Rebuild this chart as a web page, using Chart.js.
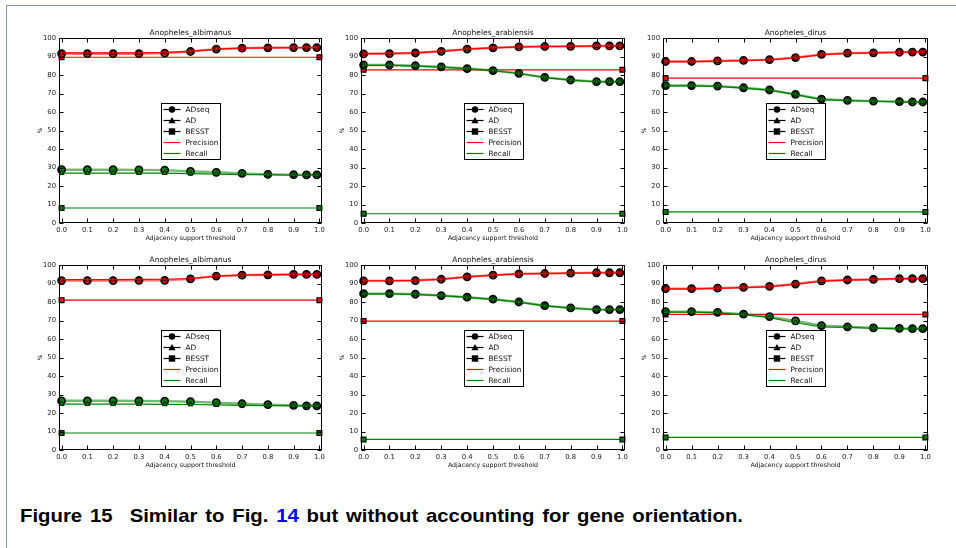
<!DOCTYPE html>
<html><head><meta charset="utf-8">
<script src="https://cdn.jsdelivr.net/npm/chart.js@4.4.1/dist/chart.umd.min.js"></script>
<style>
html,body{margin:0;padding:0;background:#fff;width:956px;height:548px;overflow:hidden;position:relative}
#frame{position:absolute;left:6px;top:5px;width:980px;height:580px;border-left:1.5px solid #7f95b5;border-top:1.5px solid #7f95b5;}
canvas{position:absolute}
#caption{position:absolute;left:20px;top:506px;font:bold 19px "Liberation Sans",Arial,sans-serif;word-spacing:2px;white-space:nowrap;transform-origin:0 0;color:#000;line-height:1}
</style></head><body>
<div id="frame"></div>
<div id="caption"><span>Figure 15</span><span style="margin-left:16px">Similar to Fig. <span style="color:#0000ff">14</span> but without accounting for gene orientation.</span></div>
<script>
// ---------- data ----------
const thresholds = [0.0, 0.1, 0.2, 0.3, 0.4, 0.5, 0.6, 0.7, 0.8, 0.9, 0.95, 0.99];
const besstX = [0.0, 1.0];
const xTickValues = [0.0, 0.1, 0.2, 0.3, 0.4, 0.5, 0.6, 0.7, 0.8, 0.9, 1.0];
const yTickValues = [0, 10, 20, 30, 40, 50, 60, 70, 80, 90, 100];
const panelTitles = ['Anopheles_albimanus', 'Anopheles_arabiensis', 'Anopheles_dirus',
                     'Anopheles_albimanus', 'Anopheles_arabiensis', 'Anopheles_dirus'];
const xAxisTitle = 'Adjacency support threshold';
const yAxisTitle = '%';
const legendLabels = ['ADseq', 'AD', 'BESST', 'Precision', 'Recall'];

// panel 1: top-left albimanus
const p1AdseqPrecision = [91.5, 91.5, 91.5, 91.5, 91.8, 92.7, 94.0, 94.5, 94.7, 94.8, 94.8, 94.8];
const p1AdPrecision    = [92.0, 92.0, 92.0, 92.0, 92.2, 92.8, 94.0, 94.5, 94.7, 94.8, 94.8, 94.8];
const p1AdseqRecall    = [28.8, 28.8, 28.8, 28.7, 28.6, 27.9, 27.4, 26.8, 26.3, 26.1, 26.0, 26.0];
const p1AdRecall       = [27.0, 27.0, 27.0, 27.0, 27.0, 26.7, 26.4, 26.2, 26.1, 25.8, 25.8, 25.8];
const p1BesstPrecision = [89.6, 89.6];
const p1BesstRecall    = [8.1, 8.1];
// panel 2: top-middle arabiensis
const p2AdseqPrecision = [91.4, 91.5, 91.9, 92.8, 94.0, 94.7, 95.2, 95.4, 95.5, 95.7, 95.7, 95.7];
const p2AdPrecision    = [91.6, 91.7, 92.0, 92.8, 94.0, 94.7, 95.2, 95.4, 95.5, 95.7, 95.7, 95.7];
const p2AdseqRecall    = [85.4, 85.4, 85.0, 84.4, 83.5, 82.4, 80.9, 78.7, 77.3, 76.4, 76.4, 76.4];
const p2AdRecall       = [85.2, 85.2, 84.8, 84.3, 83.4, 82.3, 80.8, 78.6, 77.2, 76.3, 76.3, 76.3];
const p2BesstPrecision = [82.8, 82.8];
const p2BesstRecall    = [5.0, 5.0];
// panel 3: top-right dirus
const p3AdseqPrecision = [87.3, 87.3, 87.6, 87.9, 88.3, 89.4, 91.1, 91.8, 92.0, 92.3, 92.4, 92.4];
const p3AdPrecision    = [87.2, 87.2, 87.5, 87.8, 88.2, 89.3, 91.0, 91.7, 92.0, 92.3, 92.4, 92.4];
const p3AdseqRecall    = [74.3, 74.3, 74.0, 73.1, 71.9, 69.5, 66.9, 66.3, 65.9, 65.6, 65.4, 65.4];
const p3AdRecall       = [74.1, 74.1, 73.8, 72.9, 71.8, 69.4, 66.7, 66.2, 65.8, 65.5, 65.3, 65.3];
const p3BesstPrecision = [78.3, 78.3];
const p3BesstRecall    = [6.0, 6.0];
// panel 4: bottom-left albimanus
const p4AdseqPrecision = [91.6, 91.6, 91.6, 91.7, 91.7, 92.5, 94.0, 94.5, 94.7, 94.9, 94.9, 94.9];
const p4AdPrecision    = [92.1, 92.1, 92.1, 92.2, 92.3, 92.7, 94.0, 94.5, 94.7, 94.9, 94.9, 94.9];
const p4AdseqRecall    = [26.6, 26.6, 26.6, 26.5, 26.4, 26.1, 25.6, 25.0, 24.5, 24.1, 23.9, 23.9];
const p4AdRecall       = [24.8, 24.8, 24.8, 24.8, 24.7, 24.6, 24.4, 24.1, 24.0, 23.8, 23.7, 23.7];
const p4BesstPrecision = [81.0, 81.0];
const p4BesstRecall    = [9.2, 9.2];
// panel 5: bottom-middle arabiensis
const p5AdseqPrecision = [91.4, 91.4, 91.6, 92.3, 93.6, 94.5, 95.2, 95.4, 95.6, 95.8, 95.8, 95.8];
const p5AdPrecision    = [91.5, 91.5, 91.7, 92.3, 93.6, 94.5, 95.2, 95.4, 95.6, 95.8, 95.8, 95.8];
const p5AdseqRecall    = [84.5, 84.5, 84.2, 83.5, 82.6, 81.5, 80.0, 78.0, 76.8, 75.9, 75.9, 75.9];
const p5AdRecall       = [84.4, 84.4, 84.1, 83.4, 82.5, 81.4, 79.9, 77.9, 76.7, 75.8, 75.8, 75.8];
const p5BesstPrecision = [69.7, 69.7];
const p5BesstRecall    = [5.7, 5.7];
// panel 6: bottom-right dirus
const p6AdseqPrecision = [87.2, 87.2, 87.5, 87.9, 88.4, 89.7, 91.4, 91.9, 92.2, 92.6, 92.6, 92.6];
const p6AdPrecision    = [87.1, 87.1, 87.4, 87.8, 88.3, 89.6, 91.3, 91.8, 92.2, 92.6, 92.6, 92.6];
const p6AdseqRecall    = [74.8, 74.8, 74.4, 73.4, 72.1, 69.8, 67.2, 66.6, 66.0, 65.7, 65.6, 65.6];
const p6AdRecall       = [74.5, 74.5, 74.1, 73.1, 71.6, 68.8, 66.5, 66.3, 65.8, 65.5, 65.5, 65.5];
const p6BesstPrecision = [73.3, 73.3];
const p6BesstRecall    = [6.8, 6.8];

const panelData = [
  [p1AdseqPrecision, p1AdPrecision, p1AdseqRecall, p1AdRecall, p1BesstPrecision, p1BesstRecall],
  [p2AdseqPrecision, p2AdPrecision, p2AdseqRecall, p2AdRecall, p2BesstPrecision, p2BesstRecall],
  [p3AdseqPrecision, p3AdPrecision, p3AdseqRecall, p3AdRecall, p3BesstPrecision, p3BesstRecall],
  [p4AdseqPrecision, p4AdPrecision, p4AdseqRecall, p4AdRecall, p4BesstPrecision, p4BesstRecall],
  [p5AdseqPrecision, p5AdPrecision, p5AdseqRecall, p5AdRecall, p5BesstPrecision, p5BesstRecall],
  [p6AdseqPrecision, p6AdPrecision, p6AdseqRecall, p6AdRecall, p6BesstPrecision, p6BesstRecall]
];

// ---------- layout ----------
const RED = '#ff0000', GREEN = '#008000';
const FONT = 'DejaVu Sans';
const plotBoxes = [ // left, top, width, height of plot area
  [59, 38, 263, 185], [361, 38, 264, 185], [663, 38, 265, 185],
  [59, 265, 263, 185], [361, 265, 264, 185], [663, 265, 265, 185]
];
const PAD_L = 50, PAD_T = 20, PAD_R = 14, PAD_B = 30;

function pts(xs, ys) { return xs.map((x, i) => ({x: x, y: ys[i]})); }
function rgba(hex, a) {
  const r = parseInt(hex.slice(1,3),16), g = parseInt(hex.slice(3,5),16), b = parseInt(hex.slice(5,7),16);
  return `rgba(${r},${g},${b},${a})`;
}
function series(data, xs, color, style, lineAlpha, lw, radius, bw) {
  return {
    data: pts(xs, data), borderColor: rgba(color, lineAlpha), borderWidth: lw,
    pointStyle: style, pointRadius: radius, pointBackgroundColor: color,
    pointBorderColor: '#000', pointBorderWidth: bw, tension: 0, fill: false, clip: 8
  };
}

const decor = {
  id: 'decor',
  afterDatasetsDraw(chart, args, opts) {
    const ctx = chart.ctx, a = chart.chartArea;
    const xs = chart.scales.x, ys = chart.scales.y;
    ctx.save();
    ctx.strokeStyle = '#000'; ctx.lineWidth = 1;
    const L = Math.round(a.left) + 0.5, T = Math.round(a.top) + 0.5;
    const R = Math.round(a.right) - 0.5, B = Math.round(a.bottom) - 0.5;
    ctx.strokeRect(L, T, R - L, B - T);
    ctx.beginPath();
    xTickValues.forEach(v => {
      const x = Math.round(xs.getPixelForValue(v)) + 0.5;
      ctx.moveTo(x, B); ctx.lineTo(x, B - 4);
      ctx.moveTo(x, T); ctx.lineTo(x, T + 4);
    });
    yTickValues.forEach(v => {
      const y = Math.round(ys.getPixelForValue(v)) + 0.5;
      ctx.moveTo(L, y); ctx.lineTo(L + 4, y);
      ctx.moveTo(R, y); ctx.lineTo(R - 4, y);
    });
    ctx.stroke();
    // titles
    const cx = (a.left + a.right) / 2, cy = (a.top + a.bottom) / 2;
    ctx.fillStyle = '#111';
    ctx.textAlign = 'center'; ctx.textBaseline = 'alphabetic';
    ctx.font = `7.5px "${FONT}"`;
    ctx.fillText(opts.title, cx, a.top - 3);
    ctx.font = `6.3px "${FONT}"`;
    ctx.fillText(xAxisTitle, cx, a.bottom + 17);
    ctx.save();
    ctx.translate(a.left - 19, cy);
    ctx.rotate(-Math.PI / 2);
    ctx.font = `6px "${FONT}"`;
    ctx.textBaseline = 'middle';
    ctx.fillText(yAxisTitle, 0, 0);
    ctx.restore();
    // legend
    const bw = 59, bh = 56;
    const bx = Math.round(cx - bw / 2) + 0.5, by = Math.round(cy - bh / 2) + 0.5;
    ctx.fillStyle = '#fff';
    ctx.fillRect(bx, by, bw, bh);
    ctx.strokeStyle = '#000'; ctx.lineWidth = 1;
    ctx.strokeRect(bx, by, bw, bh);
    const colors = ['#000', '#000', '#000', RED, GREEN];
    const markers = ['circle', 'triangle', 'rect', null, null];
    legendLabels.forEach((lab, i) => {
      const y = by + 6 + i * 11;
      ctx.strokeStyle = colors[i]; ctx.lineWidth = 1.2;
      ctx.beginPath(); ctx.moveTo(bx + 2, y); ctx.lineTo(bx + 19, y); ctx.stroke();
      const mx = bx + 10.5;
      ctx.fillStyle = '#000';
      if (markers[i] === 'circle') { ctx.beginPath(); ctx.arc(mx, y, 3.2, 0, Math.PI * 2); ctx.fill(); }
      if (markers[i] === 'triangle') { ctx.beginPath(); ctx.moveTo(mx, y - 3.6); ctx.lineTo(mx + 3.6, y + 2.8); ctx.lineTo(mx - 3.6, y + 2.8); ctx.closePath(); ctx.fill(); }
      if (markers[i] === 'rect') { ctx.fillRect(mx - 3.2, y - 3.2, 6.4, 6.4); }
      ctx.fillStyle = '#111';
      ctx.font = `7.4px "${FONT}"`;
      ctx.textAlign = 'left'; ctx.textBaseline = 'middle';
      ctx.fillText(lab, bx + 24, y + 0.5);
    });
    ctx.restore();
  }
};

plotBoxes.forEach((box, k) => {
  const [l, t, w, h] = box;
  const cv = document.createElement('canvas');
  cv.width = w + PAD_L + PAD_R; cv.height = h + PAD_T + PAD_B;
  cv.style.left = (l - PAD_L) + 'px'; cv.style.top = (t - PAD_T) + 'px';
  cv.style.width = cv.width + 'px'; cv.style.height = cv.height + 'px';
  document.body.appendChild(cv);
  const d = panelData[k];
  const datasets = [
    series(d[1], thresholds, RED, 'triangle', 1, 1.2, 2.9, 0.8),
    series(d[3], thresholds, GREEN, 'triangle', 1, 1.2, 2.9, 0.8),
    series(d[0], thresholds, RED, 'circle', 0.55, 2.4, 3.6, 1.6),
    series(d[2], thresholds, GREEN, 'circle', 0.55, 2.4, 3.6, 1.6),
    series(d[4], besstX, RED, 'rect', 1, 1.2, 3.4, 1.2),
    series(d[5], besstX, GREEN, 'rect', 1, 1.2, 3.4, 1.2)
  ];
  const tickFont = {family: FONT, size: 6.8};
  new Chart(cv, {
    type: 'line',
    data: {datasets: datasets},
    options: {
      responsive: false, animation: false, devicePixelRatio: 1,
      layout: {padding: {left: 0, top: PAD_T, right: PAD_R, bottom: 0}},
      plugins: {legend: {display: false}, tooltip: {enabled: false}, title: {display: false},
                decor: {title: panelTitles[k]}},
      scales: {
        x: {
          type: 'linear', min: -0.01, max: 1.01,
          afterFit: s => { s.height = PAD_B; },
          afterBuildTicks: s => { s.ticks = xTickValues.map(v => ({value: v})); },
          ticks: {callback: v => Number(v).toFixed(1), font: tickFont, color: '#222', padding: 3,
                  maxRotation: 0, autoSkip: false},
          grid: {display: false, drawTicks: false}, border: {display: false}
        },
        y: {
          type: 'linear', min: 0, max: 100,
          afterFit: s => { s.width = PAD_L; },
          afterBuildTicks: s => { s.ticks = yTickValues.map(v => ({value: v})); },
          ticks: {callback: v => String(v), font: tickFont, color: '#222', padding: 3, autoSkip: false},
          grid: {display: false, drawTicks: false}, border: {display: false}
        }
      }
    },
    plugins: [decor]
  });
});

// fit caption width to reference
const cap = document.getElementById('caption');
const cw = cap.getBoundingClientRect().width;
cap.style.transform = 'scaleX(' + (723 / cw) + ')';
</script>
</body></html>
